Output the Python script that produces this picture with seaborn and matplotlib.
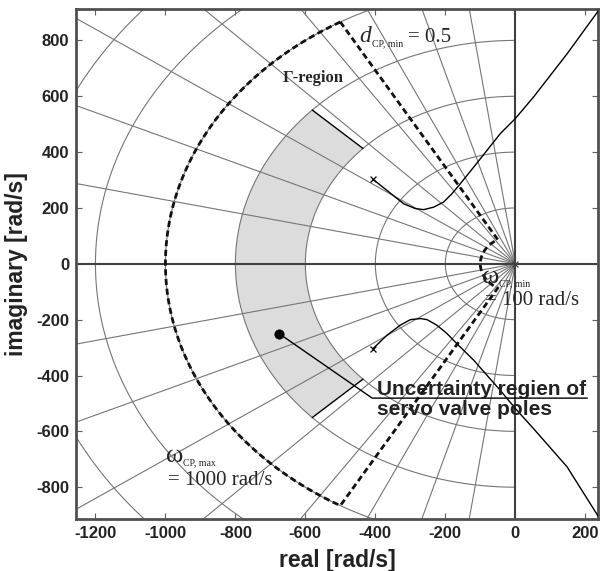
import numpy as np
import pandas as pd
import matplotlib
matplotlib.use("Agg")
import matplotlib.pyplot as plt
import seaborn as sns

# ---------------- data ----------------
circle_radii = [200, 400, 600, 800, 1000, 1200, 1400]
radial_angles_deg = [12.9, 24.3, 35.0, 45.7, 56.1, 65.1, 73.7, 81.8]  # measured from negative real axis
gamma_wmax = 1000
gamma_wmin = 100
gamma_dmin = 0.5
region_radii = [600, 800]
region_half_angle = 43.5
upper_re = [-406, -319, -286, -262, -233, -205, -181, -157, -119, -81, -43, 0, 52, 148, 238]
upper_im = [302, 215, 198, 194, 203, 221, 251, 287, 346, 406, 466, 520, 597, 752, 907]
lower_re = [-407, -367, -329, -300, -271, -252, -224, -195, -167, -119, -81, -43, 0, 52, 148, 238]
lower_im = [-304, -256, -220, -200, -196, -200, -220, -250, -286, -345, -399, -453, -518, -590, -727, -906]
start_re = [-406, -407]
start_im = [302, -304]
origin_re = [0]
origin_im = [0]
servo_re = [-675]
servo_im = [-250]
leader_re = [-675, -409, 206]
leader_im = [-250, -481, -481]
x_ticks = [-1200, -1000, -800, -600, -400, -200, 0, 200]
y_ticks = [-800, -600, -400, -200, 0, 200, 400, 600, 800]

# ---------------- style ----------------
sns.set_theme(style="white")
plt.rcParams["font.family"] = ["Liberation Sans", "DejaVu Sans"]
SERIF = ["Liberation Serif", "DejaVu Serif"]

fig = plt.figure(figsize=(6.0, 5.71), dpi=100)
ax = fig.add_axes([0.127, 0.091, 0.870, 0.893])

grid_c = "#767676"
th = np.linspace(np.pi / 2, 3 * np.pi / 2, 400)

# shaded uncertainty region
a0 = np.deg2rad(180 - region_half_angle)
a1 = np.deg2rad(180 + region_half_angle)
ta = np.linspace(a0, a1, 200)
px = np.concatenate([region_radii[1] * np.cos(ta), region_radii[0] * np.cos(ta[::-1])])
py = np.concatenate([region_radii[1] * np.sin(ta), region_radii[0] * np.sin(ta[::-1])])
ax.fill(px, py, color="#dcdcdc", lw=0, zorder=0.5)
for a in (a0, a1):
    ax.plot([region_radii[0] * np.cos(a), region_radii[1] * np.cos(a)],
            [region_radii[0] * np.sin(a), region_radii[1] * np.sin(a)],
            color="black", lw=1.0, zorder=2)

# grid circles
for r in circle_radii:
    ax.plot(r * np.cos(th), r * np.sin(th), color=grid_c, lw=0.8, zorder=1)
# radial lines
for ang in radial_angles_deg:
    a = np.deg2rad(ang)
    for s in (1, -1):
        ax.plot([0, -2000 * np.cos(a)], [0, s * 2000 * np.sin(a)], color=grid_c, lw=0.8, zorder=1)

# axes through origin
ax.axhline(0, color="#404040", lw=1.5, zorder=1.5)
ax.axvline(0, color="#404040", lw=1.5, zorder=1.5)

# Gamma region boundary
phi = np.arccos(gamma_dmin)
g0 = np.pi - phi
g1 = np.pi + phi
tg = np.linspace(g0, g1, 300)
gx = np.concatenate([gamma_wmax * np.cos(tg), gamma_wmin * np.cos(tg[::-1]), [gamma_wmax * np.cos(g0)]])
gy = np.concatenate([gamma_wmax * np.sin(tg), gamma_wmin * np.sin(tg[::-1]), [gamma_wmax * np.sin(g0)]])
ax.plot(gx, gy, color="#111111", lw=2.0, ls=(0, (2.2, 1.3)), zorder=3)

# root loci
sns.lineplot(x=upper_re, y=upper_im, sort=False, estimator=None, color="black", lw=1.0, ax=ax, zorder=4)
sns.lineplot(x=lower_re, y=lower_im, sort=False, estimator=None, color="black", lw=1.0, ax=ax, zorder=4)
sns.scatterplot(x=start_re, y=start_im, marker="x", s=18, color="black", linewidth=0.9, ax=ax, zorder=5)
sns.scatterplot(x=origin_re, y=origin_im, marker="x", s=18, color="#404040", linewidth=0.9, ax=ax, zorder=5)

# servo valve pole + leader
sns.lineplot(x=leader_re, y=leader_im, sort=False, estimator=None, color="black", lw=1.0, ax=ax, zorder=4)
sns.scatterplot(x=servo_re, y=servo_im, s=45, color="black", edgecolor="black", ax=ax, zorder=6)

# texts
ax.text(-394, -471, "Uncertainty regien of", fontsize=15, fontweight="bold", color="#222222",
        ha="left", va="baseline", zorder=7)
ax.text(-394, -542, "servo valve poles", fontsize=15, fontweight="bold", color="#222222",
        ha="left", va="baseline", zorder=7)

# d_CP,min = 0.5
ax.text(-445, 793, "d", fontsize=17, family=SERIF, style="italic", ha="left", va="baseline", zorder=7)
ax.text(-409, 778, "CP, min", fontsize=7, family=SERIF, ha="left", va="baseline", zorder=7)
ax.text(-306, 793, "= 0.5", fontsize=15, family=SERIF, ha="left", va="baseline", zorder=7)

# Gamma-region
ax.text(-666, 650, "Γ-region", fontsize=12, family=SERIF, fontweight="bold",
        ha="left", va="baseline", zorder=7)

# omega_CP,min
ax.text(-95, -70, "ω", fontsize=19, family=SERIF, ha="left", va="baseline", zorder=7)
ax.text(-47, -81, "CP, min", fontsize=7, family=SERIF, ha="left", va="baseline", zorder=7)
ax.text(-86, -149, "= 100 rad/s", fontsize=15, family=SERIF, ha="left", va="baseline", zorder=7)

# omega_CP,max
ax.text(-998, -710, "ω", fontsize=19, family=SERIF, ha="left", va="baseline", zorder=7)
ax.text(-951, -721, "CP, max", fontsize=7, family=SERIF, ha="left", va="baseline", zorder=7)
ax.text(-994, -793, "= 1000 rad/s", fontsize=15, family=SERIF, ha="left", va="baseline", zorder=7)

# axes setup
ax.set_xlim(-1255, 237)
ax.set_ylim(-914, 912)
ax.set_xticks(x_ticks)
ax.set_yticks(y_ticks)
ax.set_xticklabels([str(t) for t in x_ticks], fontsize=12, fontweight="bold", color="#222222")
ax.set_yticklabels([str(t) for t in y_ticks], fontsize=12, fontweight="bold", color="#222222")
ax.tick_params(direction="in", length=4, width=0.8, color="#606060", top=True, right=True,
               bottom=True, left=True, pad=5)
for sp in ax.spines.values():
    sp.set_visible(True)
    sp.set_color("#505050")
    sp.set_linewidth(2.0)
ax.set_xlabel("real [rad/s]", fontsize=16.5, fontweight="bold", color="#222222", labelpad=6)
ax.set_ylabel("imaginary [rad/s]", fontsize=16.5, fontweight="bold", color="#222222", labelpad=6)

fig.savefig("out.png", dpi=100)
